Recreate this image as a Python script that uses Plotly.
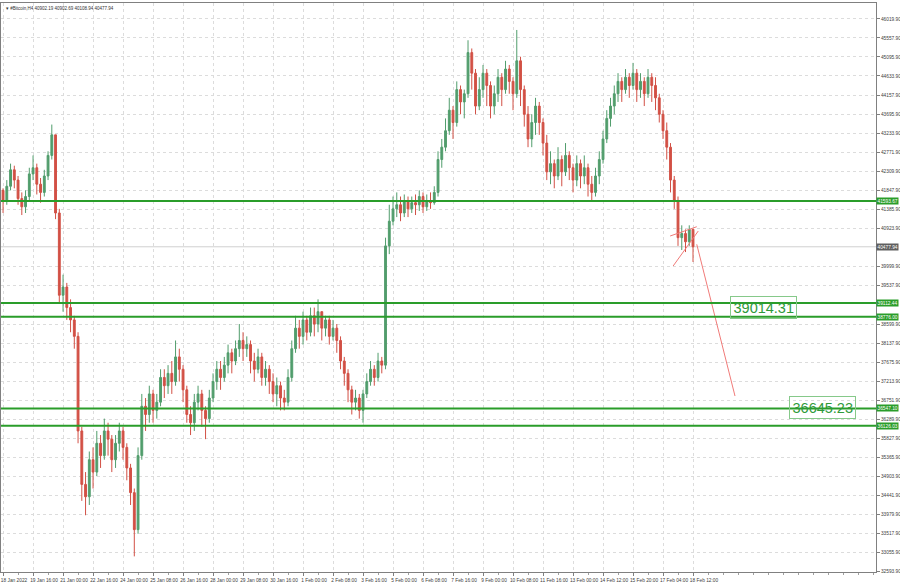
import plotly.graph_objects as go

# ---------------- data ----------------
first_open = 41850.0
closes = [41600, 41950, 42350, 42100, 41650, 41450, 41700, 42250, 42400, 42000,
          41800, 42200, 42700, 43200, 41300, 39300, 39500, 39000, 38700, 38300,
          36000, 34700, 34400, 35300, 35000, 35700, 35400, 36000, 35800, 35300,
          35700, 36000, 35600, 35100, 34500, 33600, 35400, 36600, 36400, 36900,
          36500, 36700, 37300, 37100, 37400, 37200, 37800, 37500, 37000, 36400,
          36200, 36700, 36900, 36500, 36300, 36800, 37200, 37500, 37300, 37600,
          37900, 37700, 38000, 38200, 38000, 38100, 37700, 37500, 37800, 37300,
          37500, 37200, 36900, 37100, 36800, 36700, 37300, 38000, 38500, 38300,
          38700, 38400, 38800, 38600, 38900, 38500, 38700, 38300, 38500, 38200,
          37700, 37400, 37000, 36700, 36800, 36500, 36900, 37200, 37500, 37300,
          37700, 37600, 40500, 41100, 41400, 41500, 41300, 41600, 41400, 41550,
          41500, 41700, 41450, 41600, 41550, 41800, 42600, 42900, 43300, 43800,
          43500, 44300, 44000, 44200, 45200, 44700, 43900, 44300, 44700, 44400,
          43900, 44200, 44600, 44300, 44800, 44500, 44200, 45000, 44300, 43700,
          43100, 43500, 43900, 43500, 43000, 42300, 42500, 42200, 42600, 42300,
          42700, 42400, 42100, 42500, 42200, 42400, 42000, 41800, 42200, 42600,
          43100, 43600, 43900, 44200, 44500, 44300, 44600, 44400, 44700, 44300,
          44500, 44200, 44600, 44400, 44100, 43700, 43300, 42900, 42100, 41600,
          40700, 40800, 40600, 40902.19, 40477.94]
highs = [41900, 42100, 42500, 42450, 42200, 41800, 41850, 42400, 42700, 42500,
         42150, 42350, 42800, 43450, 43200, 41400, 39800, 39600, 39200, 38800,
         38400, 36100, 35000, 35500, 35600, 36000, 35900, 36300, 36200, 35900,
         35900, 36200, 36100, 35700, 35200, 34600, 35600, 36900, 36800, 37100,
         37000, 36900, 37500, 37500, 37600, 37700, 38200, 38000, 37600, 37100,
         36600, 36900, 37100, 37000, 36600, 37000, 37400, 37700, 37700, 37800,
         38100, 38000, 38200, 38600, 38400, 38300, 38200, 37900, 38000, 37900,
         37700, 37600, 37400, 37300, 37200, 37000, 37500, 38200, 38800, 38700,
         38900, 38800, 39000, 39000, 39200, 38900, 38800, 38800, 38700, 38600,
         38300, 37800, 37500, 37100, 37000, 36900, 37000, 37400, 37700, 37600,
         37900, 37800, 40700, 41500, 41700, 41800, 41700, 41750, 41700, 41700,
         41750, 41850, 41800, 41750, 41800, 41950, 42800, 43100, 43600, 44100,
         43900, 44500, 44400, 44300, 45500, 45300, 44800, 44600, 44900, 44800,
         44500, 44400, 44800, 44700, 45000, 44900, 44600, 45750, 45100, 44400,
         43900, 43700, 44100, 44000, 43600, 43200, 42800, 42600, 42900, 42700,
         43000, 42800, 42500, 42700, 42600, 42700, 42500, 42200, 42400, 42800,
         43300, 43800, 44100, 44400, 44700, 44600, 44800, 44700, 44950, 44800,
         44700, 44600, 44800, 44700, 44600, 44200, 43800, 43500, 43000, 42200,
         41700, 41000, 40900, 41000, 40902.69]
lows = [41300, 41500, 41850, 41900, 41500, 41250, 41300, 41600, 42100, 41750,
        41550, 41700, 42100, 42600, 41150, 39100, 38900, 38700, 38400, 38000,
        35700, 34300, 33950, 34200, 34600, 34900, 35100, 35300, 35400, 35000,
        35100, 35500, 35300, 34800, 34200, 32950, 33500, 35300, 36000, 36200,
        36200, 36300, 36600, 36800, 36900, 36900, 37100, 37200, 36700, 36200,
        35900, 36000, 36500, 36100, 35800, 36200, 36700, 37000, 37000, 37200,
        37400, 37400, 37600, 37800, 37700, 37800, 37400, 37200, 37400, 37100,
        37100, 36900, 36700, 36600, 36500, 36500, 36600, 37200, 37900, 38000,
        38100, 38200, 38300, 38300, 38400, 38200, 38300, 38100, 38200, 37900,
        37500, 37100, 36700, 36400, 36500, 36300, 36200, 36800, 37100, 37100,
        37200, 37400, 37500, 40300, 41000, 41200, 41100, 41200, 41200, 41300,
        41250, 41350, 41300, 41350, 41400, 41500, 41700, 42400, 42800, 43200,
        43100, 43400, 43700, 43600, 44100, 44300, 43700, 43800, 44100, 43900,
        43600, 43700, 44000, 43900, 44200, 44200, 43800, 44100, 43900, 43400,
        42900, 42900, 43200, 43200, 42700, 42100, 42000, 41900, 42100, 41950,
        42200, 42100, 41800, 41950, 41900, 42000, 41700, 41600, 41700, 42000,
        42500, 43000, 43400, 43700, 44000, 44000, 44200, 44100, 44300, 44000,
        44100, 43900, 44100, 44000, 43800, 43500, 43100, 42600, 41800, 41400,
        40500, 40400, 40350, 40500, 40108.94]

time_labels = ["18 Jan 2022", "19 Jan 16:00", "21 Jan 00:00", "22 Jan 16:00",
               "24 Jan 00:00", "25 Jan 08:00", "26 Jan 16:00", "28 Jan 00:00",
               "29 Jan 08:00", "30 Jan 16:00", "1 Feb 00:00", "2 Feb 08:00",
               "3 Feb 16:00", "5 Feb 00:00", "6 Feb 08:00", "7 Feb 16:00",
               "9 Feb 00:00", "10 Feb 08:00", "11 Feb 16:00", "13 Feb 00:00",
               "14 Feb 12:00", "15 Feb 20:00", "17 Feb 04:00", "18 Feb 12:00"]
bars_per_label = 8

price_ticks = [46019.90, 45557.90, 45095.90, 44633.90, 44157.90, 43695.90,
               43233.90, 42771.90, 42309.90, 41847.90, 41385.90, 40923.90,
               39999.90, 39537.90, 38599.90, 38137.90, 37675.90, 37213.90,
               36751.90, 36289.90, 35827.90, 35365.90, 34903.90, 34441.90,
               33979.90, 33517.90, 33055.90, 32593.90]

level_values = [41593.67, 39112.44, 38776.00, 36547.10, 36126.03]
target_texts = ["39014.31", "36645.23"]
target_x = [202.7, 218.4]
target_y = [38990, 36560]

last_price = 40477.94
header = "▾ #Bitcoin,H4 40902.19 40902.69 40108.94 40477.94"

wedge_upper_x = [177.9, 185.0]
wedge_upper_y = [40740, 40966]
wedge_lower_x = [178.7, 185.4]
wedge_lower_y = [40010, 40861]
arrow_x = [185.0, 195.2]
arrow_y = [40538, 36849]

# ---------------- figure ----------------
n = len(closes)
opens = [first_open] + closes[:-1]
xs = list(range(n))

GREEN_C = "#519d6c"
RED_C = "#d25045"
LEVEL_C = "#2a9d2a"
TREND_C = "#f07a78"
SMALL_FONT = "Liberation Sans"

fig = go.Figure()
fig.add_trace(go.Candlestick(
    x=xs, open=opens, high=highs, low=lows, close=closes,
    increasing=dict(line=dict(color=GREEN_C, width=1), fillcolor=GREEN_C),
    decreasing=dict(line=dict(color=RED_C, width=1), fillcolor=RED_C),
    whiskerwidth=0, hoverinfo="skip", showlegend=False))

for lx, ly in [(wedge_upper_x, wedge_upper_y), (wedge_lower_x, wedge_lower_y), (arrow_x, arrow_y)]:
    fig.add_trace(go.Scatter(x=lx, y=ly, mode="lines",
                             line=dict(color=TREND_C, width=1),
                             hoverinfo="skip", showlegend=False))

# current price line
fig.add_shape(type="line", xref="paper", x0=0, x1=1, yref="y", y0=last_price, y1=last_price,
              line=dict(color="#d0d0d0", width=1), layer="below")

for v in level_values:
    fig.add_shape(type="line", xref="paper", x0=0, x1=1, yref="y", y0=v, y1=v,
                  line=dict(color=LEVEL_C, width=2))
    fig.add_annotation(xref="paper", x=1, xanchor="left", yref="y", y=v, yanchor="middle",
                       text=f"{v:.2f}", showarrow=False, bgcolor=LEVEL_C,
                       font=dict(family=SMALL_FONT, size=4.8, color="white"),
                       borderpad=0.5, xshift=0)

fig.add_annotation(xref="paper", x=1, xanchor="left", yref="y", y=last_price, yanchor="middle",
                   text=f"{last_price:.2f}", showarrow=False, bgcolor="#5f5f5f",
                   font=dict(family=SMALL_FONT, size=4.8, color="white"),
                   borderpad=0.5, xshift=0)

for t, tx, ty in zip(target_texts, target_x, target_y):
    fig.add_annotation(x=tx, y=ty, xref="x", yref="y", text=t, showarrow=False,
                       font=dict(family="Liberation Sans", size=14.5, color="#2f9a3a"),
                       bordercolor="#86c98a", borderwidth=1, borderpad=2.5,
                       bgcolor="rgba(255,255,255,0)")

fig.add_annotation(xref="paper", yref="paper", x=0.003, y=1, xanchor="left", yanchor="top",
                   text=header, showarrow=False,
                   font=dict(family=SMALL_FONT, size=4.5, color="#333333"), yshift=-1)

tick_pos = [i * bars_per_label for i in range(len(time_labels))]

fig.update_layout(
    width=900, height=585,
    margin=dict(l=1, r=24, t=3, b=13),
    paper_bgcolor="white", plot_bgcolor="white",
    showlegend=False, hovermode=False,
    xaxis=dict(
        range=[-0.55, 232.8], rangeslider=dict(visible=False),
        tickvals=tick_pos, ticktext=time_labels, tickangle=0, automargin=False,
        ticks="outside", ticklen=3,
        tickcolor="#808080", tickfont=dict(family=SMALL_FONT, size=4.8, color="#404040"),
        ticklabelshift=11, ticklabelstandoff=0,
        showgrid=True, gridcolor="#dcdcdc", griddash="dot", gridwidth=1,
        showline=True, linecolor="#808080", linewidth=1, mirror=True,
        zeroline=False, fixedrange=True,
        minor=dict(dtick=4, tick0=0, ticks="outside", ticklen=2, tickcolor="#a0a0a0", showgrid=False),
    ),
    yaxis=dict(
        side="right", range=[32570, 46406], automargin=False,
        tickvals=price_ticks, ticktext=[f"{p:.2f}" for p in price_ticks],
        ticks="outside", ticklen=3, tickcolor="#808080",
        tickfont=dict(family=SMALL_FONT, size=4.8, color="#404040"),
        ticklabelstandoff=0,
        showgrid=True, gridcolor="#dcdcdc", griddash="dot", gridwidth=1,
        showline=True, linecolor="#808080", linewidth=1, mirror=True,
        zeroline=False, fixedrange=True,
    ),
)

fig.write_html("out.html", config={"displayModeBar": False},
               post_script="document.body.style.margin='0';document.body.style.padding='0';")
